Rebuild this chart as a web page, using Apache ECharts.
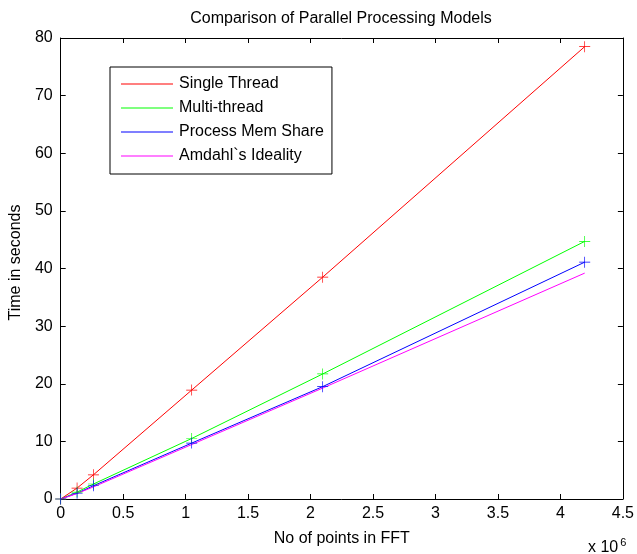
<!DOCTYPE html>
<html>
<head>
<meta charset="utf-8">
<script src="https://cdn.jsdelivr.net/npm/echarts@6/dist/echarts.min.js"></script>
<style>
html,body{margin:0;padding:0;background:#fff;}
#c{width:637px;height:554px;}
</style>
</head>
<body>
<div id="c"></div>
<script>
// ---- data (x in units of 10^6 points) ----
var fftPoints = [0, 0.131072, 0.262144, 1.048576, 2.097152, 4.194304];
var singleThread = [0, 1.9, 4.2, 18.9, 38.5, 78.5];
var multiThread = [0, 1.2, 2.6, 10.5, 21.7, 44.7];
var processMemShare = [0, 1.0, 2.3, 9.7, 19.5, 41.1];
var amdahlIdeality = [0, 0.95, 2.1, 9.45, 19.25, 39.2];
var seriesNames = ['Single Thread', 'Multi-thread', 'Process Mem Share', 'Amdahl`s Ideality'];
var xTicks = {min: 0, max: 4.5, interval: 0.5};
var yTicks = {min: 0, max: 80, interval: 10};

var FONT = 'Liberation Sans, Arial, Helvetica, sans-serif';
var FS = 16;
var plus = 'path://M9.4,0 H10.6 V9.4 H20 V10.6 H10.6 V20 H9.4 V10.6 H0 V9.4 H9.4 Z';

function pairs(ys){ return fftPoints.map(function(x,i){ return [x, ys[i]]; }); }

function mkSeries(name, ys, color, marker){
  return {
    name: name, type: 'line', data: pairs(ys),
    xAxisIndex: 0, yAxisIndex: 0,
    lineStyle: {color: color, width: 1},
    itemStyle: {color: color},
    symbol: marker ? plus : 'none',
    symbolSize: 11,
    showSymbol: marker,
    animation: false,
    z: 3
  };
}

function axisCommon(){
  return {
    axisLine: {show: true, onZero: false, lineStyle: {color: '#000', width: 1}},
    axisTick: {show: true, inside: true, length: 5, lineStyle: {color: '#000'}},
    splitLine: {show: false}
  };
}

var chart = echarts.init(document.getElementById('c'), null, {renderer: 'canvas'});
chart.setOption({
  backgroundColor: '#fff',
  animation: false,
  textStyle: {fontFamily: FONT},
  title: {
    text: 'Comparison of Parallel Processing Models',
    left: 341, top: 11, textAlign: 'center', padding: 0,
    textStyle: {fontFamily: FONT, fontSize: FS, fontWeight: 'normal', color: '#000'}
  },
  grid: {left: 59, right: 13, top: 38, bottom: 55, containLabel: false},
  legend: {
    orient: 'vertical', left: 110, top: 67,
    data: seriesNames,
    icon: 'rect', itemWidth: 52, itemHeight: 1, itemGap: 8,
    padding: [9, 8, 10, 11],
    borderColor: '#000', borderWidth: 1, backgroundColor: '#fff',
    textStyle: {fontFamily: FONT, fontSize: FS, color: '#000', padding: [0,0,0,1]},
    selectedMode: false
  },
  xAxis: [
    Object.assign({type: 'value', position: 'bottom', min: xTicks.min, max: xTicks.max, interval: xTicks.interval,
      name: 'No of points in FFT', nameLocation: 'middle', nameGap: 32,
      nameTextStyle: {fontFamily: FONT, fontSize: FS, color: '#000'},
      axisLabel: {show: true, margin: 7, color: '#000', fontFamily: FONT, fontSize: FS,
        formatter: function(v){ return String(+v.toFixed(2)); }}
    }, axisCommon()),
    Object.assign({type: 'value', position: 'top', min: xTicks.min, max: xTicks.max, interval: xTicks.interval,
      axisLabel: {show: false}}, axisCommon())
  ],
  yAxis: [
    Object.assign({type: 'value', position: 'left', min: yTicks.min, max: yTicks.max, interval: yTicks.interval,
      name: 'Time in seconds', nameLocation: 'middle', nameGap: 36,
      nameTextStyle: {fontFamily: FONT, fontSize: FS, color: '#000', padding: [0, 0, 0, 12]},
      axisLabel: {show: true, margin: 8, color: '#000', fontFamily: FONT, fontSize: FS, padding: [4, 0, 0, 0]}
    }, axisCommon()),
    Object.assign({type: 'value', position: 'right', min: yTicks.min, max: yTicks.max, interval: yTicks.interval,
      axisLabel: {show: false}}, axisCommon())
  ],
  graphic: [{
    type: 'text', left: 588, top: 537, z: 10,
    style: {
      text: '{a|x 10}{b|6}',
      rich: {
        a: {fontFamily: FONT, fontSize: FS, fill: '#000', verticalAlign: 'bottom'},
        b: {fontFamily: FONT, fontSize: 11, fill: '#000', verticalAlign: 'top', padding: [0,0,8,2]}
      }
    }
  }],
  series: [
    mkSeries(seriesNames[0], singleThread, '#ff0000', true),
    mkSeries(seriesNames[1], multiThread, '#00ff00', true),
    mkSeries(seriesNames[2], processMemShare, '#0000ff', true),
    mkSeries(seriesNames[3], amdahlIdeality, '#ff00ff', false)
  ]
});
</script>
</body>
</html>
